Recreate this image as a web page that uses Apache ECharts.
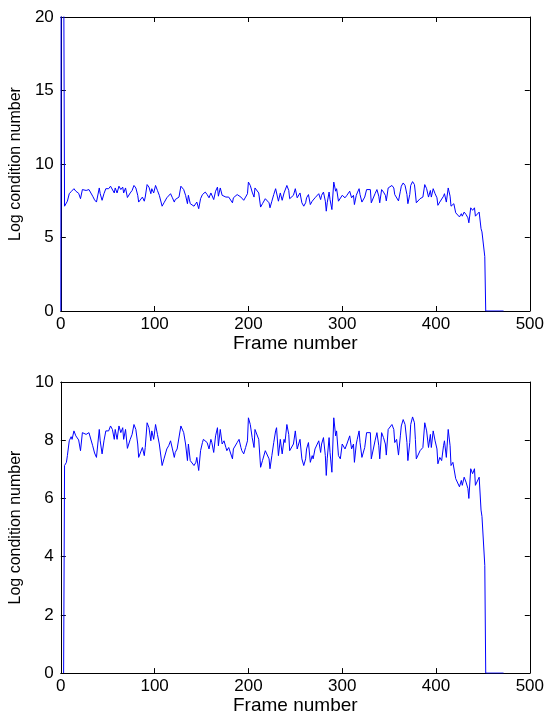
<!DOCTYPE html>
<html>
<head>
<meta charset="utf-8">
<script src="https://cdn.jsdelivr.net/npm/echarts@6/dist/echarts.min.js"></script>
<style>
  html, body { margin: 0; padding: 0; background: #fff; }
  #chart { width: 547px; height: 716px; }
</style>
</head>
<body>
<div id="chart"></div>
<script>
// frame index and log condition number
const frames = [
  4, 6, 7, 9, 11, 12, 14, 16, 18, 19,
  21, 23, 25, 27, 28, 30, 32, 34, 36, 38,
  41, 42, 44, 46, 48, 50, 51, 53, 55, 57,
  58, 60, 62, 64, 66, 67, 69, 71, 73, 74,
  76, 78, 80, 82, 83, 85, 87, 89, 90, 92,
  94, 96, 97, 99, 101, 103, 105, 106, 108, 110,
  112, 113, 115, 117, 119, 121, 122, 124, 126, 128,
  129, 131, 133, 135, 136, 138, 140, 142, 144, 145,
  147, 149, 151, 152, 154, 156, 158, 160, 161, 163,
  165, 167, 168, 170, 172, 174, 176, 177, 179, 181,
  183, 184, 186, 188, 190, 192, 193, 195, 197, 199,
  200, 202, 204, 206, 207, 209, 211, 213, 215, 216,
  218, 220, 222, 223, 225, 227, 229, 230, 232, 234,
  236, 238, 239, 241, 243, 244, 246, 248, 250, 252,
  253, 255, 257, 259, 261, 262, 264, 266, 268, 269,
  271, 273, 275, 277, 278, 280, 282, 283, 284, 286,
  287, 289, 291, 292, 293, 294, 296, 298, 300, 301,
  303, 305, 307, 308, 310, 312, 313, 315, 316, 318,
  319, 321, 323, 324, 326, 328, 330, 331, 333, 335,
  337, 339, 340, 342, 344, 346, 347, 349, 351, 353,
  355, 356, 358, 360, 362, 363, 365, 367, 369, 370,
  372, 373, 375, 377, 378, 379, 381, 383, 385, 386,
  388, 390, 392, 394, 395, 397, 399, 401, 402, 404,
  406, 408, 409, 411, 413, 415, 416, 418, 419, 421,
  423, 425, 427, 428, 430, 432, 434, 435, 437, 439,
  441, 442, 444, 446, 448, 449, 452, 453, 472
];
const logCond = [
  7.13, 7.24, 7.47, 7.98, 8.12, 8.03, 8.32, 8.15, 8.09, 8.01,
  7.64, 8.26, 8.28, 8.20, 8.24, 8.26, 8.20, 7.81, 7.56, 7.41,
  8.37, 7.98, 7.53, 7.98, 8.32, 8.28, 8.32, 8.49, 8.37, 8.03,
  8.37, 8.03, 8.49, 8.26, 8.43, 8.03, 8.37, 7.72, 7.75, 8.03,
  8.20, 8.54, 8.37, 7.87, 7.41, 7.36, 7.75, 7.47, 7.75, 8.60,
  8.43, 7.98, 8.32, 8.03, 8.54, 8.20, 7.87, 7.81, 7.13, 7.36,
  7.36, 7.70, 7.81, 7.98, 7.70, 7.41, 7.58, 7.70, 7.75, 8.49,
  8.43, 8.26, 7.87, 7.30, 7.87, 7.30, 7.24, 7.13, 7.24, 7.41,
  6.96, 7.64, 7.92, 8.03, 8.09, 7.92, 7.70, 8.03, 7.92, 7.58,
  8.15, 8.43, 7.81, 8.37, 7.87, 7.98, 7.75, 7.64, 7.75, 7.75,
  7.36, 7.70, 7.75, 7.92, 8.03, 7.75, 7.64, 7.53, 7.75, 7.98,
  8.77, 8.54, 8.09, 7.75, 8.37, 8.43, 8.03, 7.07, 7.30, 7.24,
  7.64, 7.70, 7.36, 7.02, 7.47, 7.92, 8.32, 8.43, 7.47, 8.03,
  7.53, 8.03, 7.92, 8.54, 8.20, 7.64, 7.70, 7.87, 8.32, 7.70,
  7.64, 8.03, 7.36, 7.13, 7.36, 7.70, 7.92, 7.24, 7.47, 7.36,
  7.70, 7.75, 7.98, 7.58, 7.87, 8.09, 7.47, 6.79, 7.36, 8.09,
  7.58, 6.90, 8.77, 8.80, 8.15, 8.32, 7.47, 7.36, 7.87, 7.81,
  7.70, 7.87, 7.81, 8.15, 7.70, 7.87, 7.24, 7.87, 8.03, 8.32,
  7.92, 7.41, 7.41, 7.75, 8.26, 8.28, 8.26, 7.36, 7.30, 7.98,
  8.26, 7.81, 7.36, 8.26, 8.09, 7.87, 7.49, 8.37, 8.32, 8.54,
  8.37, 7.92, 8.03, 7.49, 8.15, 8.49, 8.71, 8.54, 7.92, 7.30,
  7.92, 8.54, 8.80, 8.60, 8.03, 7.36, 7.30, 7.64, 7.58, 7.75,
  8.60, 8.32, 7.75, 8.20, 7.75, 8.32, 7.98, 7.70, 7.19, 7.41,
  7.30, 7.81, 7.98, 7.41, 8.37, 7.81, 7.13, 7.24, 7.30, 6.68,
  6.73, 6.40, 6.62, 6.45, 6.73, 6.56, 6.34, 6.00, 7.02, 6.85,
  7.02, 6.45, 6.51, 6.73, 5.60, 5.38, 3.70, 0, 0
];
// first frames: the top plot has a spike far above 20, the bottom one starts at 0
const topLeadFrames = [0, 1, 2];
const topLeadValues = [0, 60, 60];
const bottomLeadFrames = [3];
const bottomLeadValues = [0];

const xTicks = { min: 0, max: 500, interval: 100 };
const topY = { min: 0, max: 20, interval: 5 };
const bottomY = { min: 0, max: 10, interval: 2 };

const pairs = (fs, vs) => fs.map((f, i) => [f, vs[i]]);
const body = pairs(frames, logCond);
const topData = pairs(topLeadFrames, topLeadValues).concat(body);
const bottomData = pairs(bottomLeadFrames, bottomLeadValues).concat(body);

const font = 'Liberation Sans, Arial, Helvetica, sans-serif';
const black = '#000';

function xAxis(grid, withLabel) {
  return {
    type: 'value', gridIndex: grid, position: withLabel ? 'bottom' : 'top',
    min: xTicks.min, max: xTicks.max, interval: xTicks.interval,
    name: withLabel ? 'Frame number' : '', nameLocation: 'middle', nameGap: 22,
    nameTextStyle: { color: black, fontFamily: font, fontSize: 19 },
    axisLine: { onZero: false, lineStyle: { color: black, width: 1 } },
    axisTick: { inside: true, length: 5, lineStyle: { color: black } },
    axisLabel: { show: withLabel, color: black, fontFamily: font, fontSize: 17, margin: 5 },
    splitLine: { show: false }
  };
}

function yAxis(grid, range, withLabel) {
  return {
    type: 'value', gridIndex: grid, position: withLabel ? 'left' : 'right',
    min: range.min, max: range.max, interval: range.interval,
    name: withLabel ? 'Log condition number' : '', nameLocation: 'middle', nameGap: 35,
    nameTextStyle: { color: black, fontFamily: font, fontSize: 16 },
    axisLine: { onZero: false, lineStyle: { color: black, width: 1 } },
    axisTick: { inside: true, length: 5, lineStyle: { color: black } },
    axisLabel: { show: withLabel, color: black, fontFamily: font, fontSize: 17, margin: 7 },
    splitLine: { show: false }
  };
}

const chart = echarts.init(document.getElementById('chart'));
chart.setOption({
  animation: false,
  backgroundColor: '#fff',
  grid: [
    { left: 60, top: 17, width: 470, height: 294 },
    { left: 60, top: 382, width: 470, height: 295 }
  ],
  xAxis: [xAxis(0, true), xAxis(0, false), xAxis(1, true), xAxis(1, false)],
  yAxis: [yAxis(0, topY, true), yAxis(0, topY, false), yAxis(1, bottomY, true), yAxis(1, bottomY, false)],
  series: [
    {
      type: 'line', xAxisIndex: 0, yAxisIndex: 0, data: topData,
      showSymbol: false, clip: true,
      lineStyle: { color: '#0000ff', width: 1 }
    },
    {
      type: 'line', xAxisIndex: 2, yAxisIndex: 2, data: bottomData,
      showSymbol: false, clip: true,
      lineStyle: { color: '#0000ff', width: 1 }
    }
  ]
});
</script>
</body>
</html>
